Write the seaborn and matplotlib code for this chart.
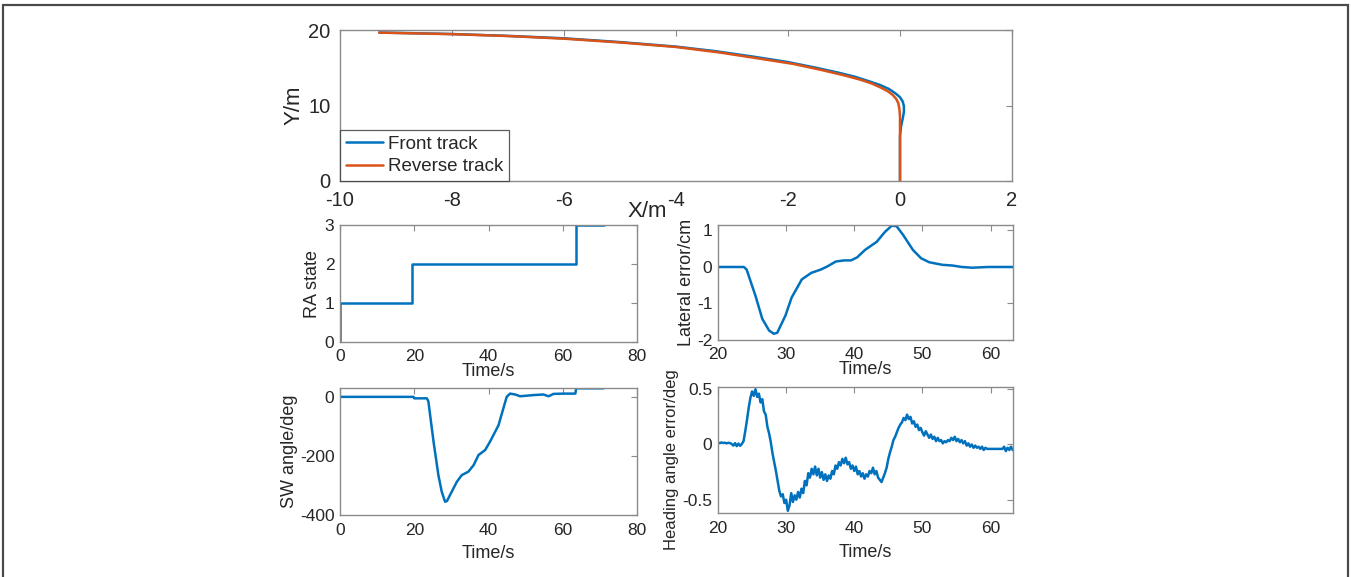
import numpy as np
import seaborn as sns
import matplotlib.pyplot as plt
from matplotlib.patches import Rectangle

# trajectory (X/m, Y/m)
front_x = [0, 0, 0.02, 0.05, 0.07, 0.07, 0.05, 0.0, -0.08, -0.2, -0.35, -0.55, -0.8, -1.1,
           -1.5, -2.0, -2.6, -3.3, -4.0, -5.0, -6.0, -7.0, -8.0, -9.3]
front_y = [0, 6.0, 7.3, 8.3, 9.2, 9.9, 10.5, 11.1, 11.6, 12.2, 12.7, 13.2, 13.8, 14.35,
           15.0, 15.75, 16.45, 17.2, 17.8, 18.4, 18.9, 19.22, 19.47, 19.67]
reverse_x = [0, 0, -0.01, -0.03, -0.07, -0.13, -0.22, -0.35, -0.5, -0.7, -1.0, -1.4, -1.9,
             -2.5, -3.2, -4.0, -5.0, -6.0, -7.0, -8.0, -9.3]
reverse_y = [0, 8.5, 9.5, 10.3, 10.9, 11.4, 11.9, 12.4, 12.9, 13.4, 14.0, 14.7, 15.5,
             16.2, 17.0, 17.75, 18.35, 18.85, 19.2, 19.45, 19.65]

# RA state
ra_t = [0, 0, 19.5, 63.5, 71]
ra_v = [0, 1, 2, 3, 3]

# lateral error (cm)
lat_t = [20, 23.8, 24.2, 25.5, 26.5, 27.5, 28.2, 28.7, 29.9, 30.8, 32.3, 33.7, 35.1, 36.1,
         37.3, 38.5, 39.5, 40.4, 41.6, 43.3, 44.5, 45.5, 46.2, 47.2, 48.6, 49.8, 51.0,
         52.9, 54.4, 55.8, 57.3, 59.7, 63.3]
lat_v = [0, 0, -0.07, -0.79, -1.42, -1.74, -1.83, -1.8, -1.33, -0.84, -0.34, -0.16, -0.07,
         0.02, 0.15, 0.18, 0.18, 0.26, 0.47, 0.69, 0.96, 1.13, 1.12, 0.87, 0.47, 0.24, 0.13,
         0.06, 0.04, 0.0, -0.02, 0.0, 0.0]

# steering wheel angle (deg)
sw_t = [0, 19.8, 20.0, 23.4, 23.8, 25.2, 26.5, 27.4, 28.3, 28.8, 30.1, 31.5, 32.8, 34.6,
        36.0, 37.3, 39.1, 40.4, 42.7, 44.0, 44.9, 45.8, 47.2, 48.5, 52.1, 54.8, 56.2, 57.5,
        60.2, 63.4, 63.6, 71]
sw_v = [0, 0, -5, -5, -15, -152, -265, -321, -355, -353, -321, -287, -265, -253,
        -231, -197, -180, -152, -96, -39, 0, 11, 8, 2, 6, 8, 2, 10,
        11, 11, 29, 29]

# heading angle error (deg), sampled every 0.25 s from t = 20 s
head_v = [0.015, 0.012, 0.018, 0.014, 0.016, 0.010, 0.015, 0.013,
          0.005, -0.010, 0.012, -0.015, 0.008, -0.012, 0.005, 0.03,
          0.12, 0.22, 0.33, 0.42, 0.48, 0.44, 0.50, 0.43,
          0.46, 0.38, 0.41, 0.30, 0.27, 0.16, 0.10, 0.02,
          -0.08, -0.16, -0.24, -0.33, -0.42, -0.47, -0.45, -0.53,
          -0.50, -0.60, -0.55, -0.44, -0.52, -0.46, -0.50, -0.43,
          -0.48, -0.40, -0.44, -0.33, -0.37, -0.26, -0.30, -0.22,
          -0.27, -0.20, -0.28, -0.22, -0.30, -0.25, -0.32, -0.27,
          -0.33, -0.28, -0.31, -0.24, -0.27, -0.19, -0.22, -0.16,
          -0.19, -0.13, -0.17, -0.12, -0.18, -0.16, -0.22, -0.19,
          -0.24, -0.20, -0.27, -0.24, -0.29, -0.26, -0.31, -0.27,
          -0.29, -0.24, -0.26, -0.21, -0.27, -0.24, -0.30, -0.32,
          -0.34, -0.30, -0.26, -0.21, -0.13, -0.07, -0.02, 0.04,
          0.07, 0.11, 0.15, 0.18, 0.20, 0.24, 0.22, 0.27,
          0.23, 0.25, 0.19, 0.21, 0.16, 0.18, 0.13, 0.15,
          0.11, 0.08, 0.12, 0.09, 0.06, 0.09, 0.05, 0.07,
          0.03, 0.06, 0.03, 0.04, 0.01, 0.03, 0.02, 0.04,
          0.03, 0.06, 0.04, 0.07, 0.03, 0.05, 0.02, 0.04,
          0.01, 0.03, -0.01, 0.01, -0.02, 0.0, -0.03, -0.01,
          -0.03, -0.02, -0.04, -0.02, -0.05, -0.03, -0.04, -0.04,
          -0.04, -0.04, -0.04, -0.04, -0.04, -0.04, -0.04, -0.04,
          -0.02, -0.06, -0.03, -0.05, -0.02, -0.05]
head_t = 20 + 0.25 * np.arange(len(head_v))

BLUE = '#0072BD'
ORANGE = '#D95319'
EDGE = '#8a8a8a'
TXT = '#262626'
LW = 1.8

sns.set_theme(style='white')
plt.rcParams['font.family'] = ['Liberation Sans', 'DejaVu Sans']
plt.rcParams['axes.unicode_minus'] = False
plt.rcParams['text.color'] = TXT
plt.rcParams['axes.labelcolor'] = TXT
plt.rcParams['xtick.color'] = TXT
plt.rcParams['ytick.color'] = TXT

W, H = 1351, 577
fig = plt.figure(figsize=(W / 100, H / 100), dpi=100)


def px_axes(l, t, r, b):
    return fig.add_axes([l / W, 1 - b / H, (r - l) / W, (b - t) / H])


def style(ax, tick_size, xpad, ypad):
    for s in ax.spines.values():
        s.set_color(EDGE)
        s.set_linewidth(1.0)
    ax.tick_params(direction='in', top=True, right=True, length=4, width=0.8,
                   color=EDGE, labelsize=tick_size)
    ax.tick_params(axis='x', pad=xpad)
    ax.tick_params(axis='y', pad=ypad)


def labels(ax, xl, yl, xy, yx, size=13, yy=0.5, ysize=None):
    ax.set_xlabel(xl, fontsize=size, va='center')
    ax.xaxis.set_label_coords(0.5, xy)
    ax.set_ylabel(yl, fontsize=ysize or size, va='center')
    ax.yaxis.set_label_coords(yx, yy)


# top trajectory panel
ax0 = px_axes(340, 30, 1012, 181)
sns.lineplot(x=front_x, y=front_y, sort=False, estimator=None, color=BLUE, lw=LW,
             label='Front track', ax=ax0)
sns.lineplot(x=reverse_x, y=reverse_y, sort=False, estimator=None, color=ORANGE, lw=LW,
             label='Reverse track', ax=ax0)
ax0.set_xlim(-10, 2)
ax0.set_ylim(0, 20)
ax0.set_xticks(np.arange(-10, 3, 2))
ax0.set_yticks([0, 10, 20])
style(ax0, 14.5, 7, 7)
ax0.set_ylabel('Y/m', fontsize=16, va='center')
ax0.yaxis.set_label_coords(-0.068, 0.5)
ax0.set_xlabel('X/m', fontsize=16, va='center')
ax0.xaxis.set_label_coords(0.457, -0.2)
leg = ax0.legend(loc='lower left', borderaxespad=0, fancybox=False, fontsize=13.5,
                 handlelength=2.0, handletextpad=0.25, borderpad=0.3, labelspacing=0.3)
leg.get_frame().set_edgecolor('#333333')
leg.get_frame().set_linewidth(0.9)

# RA state
ax1 = px_axes(340, 225, 637, 342)
sns.lineplot(x=ra_t, y=ra_v, sort=False, estimator=None, color=BLUE, lw=LW,
             drawstyle='steps-post', ax=ax1)
ax1.set_xlim(0, 80)
ax1.set_ylim(0, 3)
ax1.set_xticks(np.arange(0, 81, 20))
ax1.set_yticks([0, 1, 2, 3])
style(ax1, 12.5, 5, 4)
labels(ax1, 'Time/s', 'RA state', -0.255, -0.094)

# lateral error
ax2 = px_axes(718, 225, 1013, 340)
sns.lineplot(x=lat_t, y=lat_v, sort=False, estimator=None, color=BLUE, lw=LW, ax=ax2)
ax2.set_xlim(20, 63.3)
ax2.set_ylim(-2, 1.15)
ax2.set_xticks([20, 30, 40, 50, 60])
ax2.set_yticks([-2, -1, 0, 1])
style(ax2, 12.5, 5, 4)
labels(ax2, 'Time/s', 'Lateral error/cm', -0.258, -0.107)

# steering wheel angle
ax3 = px_axes(340, 388, 637, 515)
sns.lineplot(x=sw_t, y=sw_v, sort=False, estimator=None, color=BLUE, lw=LW, ax=ax3)
ax3.set_xlim(0, 80)
ax3.set_ylim(-400, 30)
ax3.set_xticks(np.arange(0, 81, 20))
ax3.set_yticks([-400, -200, 0])
style(ax3, 12.5, 6, 4)
labels(ax3, 'Time/s', 'SW angle/deg', -0.30, -0.17)

# heading angle error
ax4 = px_axes(718, 387, 1013, 513)
sns.lineplot(x=head_t, y=head_v, sort=False, estimator=None, color=BLUE, lw=LW, ax=ax4)
ax4.set_xlim(20, 63.3)
ax4.set_ylim(-0.62, 0.52)
ax4.set_xticks([20, 30, 40, 50, 60])
ax4.set_yticks([-0.5, 0, 0.5])
ax4.set_yticklabels(['-0.5', '0', '0.5'])
style(ax4, 12.5, 6, 4)
labels(ax4, 'Time/s', 'Heading angle error/deg', -0.31, -0.156, yy=0.42, ysize=12)

# frame around the figure
fig.patches.append(Rectangle((3 / W, -0.1), (W - 6) / W, 1.1 - 5 / H, transform=fig.transFigure,
                             fill=False, edgecolor='#4a4a4a', lw=1.6))

fig.savefig('out.png', dpi=100)
